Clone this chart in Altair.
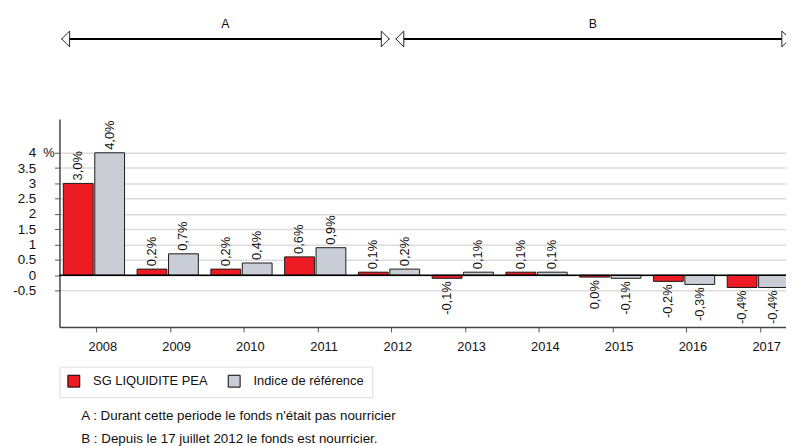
import altair as alt
import pandas as pd

# ---------------- data ----------------
years = [2008, 2009, 2010, 2011, 2012, 2013, 2014, 2015, 2016, 2017]
series_names = ["SG LIQUIDITE PEA", "Indice de référence"]
series_colors = ["#ED1C24", "#C8CDD6"]

fund_values = [3.0, 0.2, 0.2, 0.6, 0.1, -0.1, 0.1, -0.06, -0.2, -0.4]
fund_labels = ["3,0%", "0,2%", "0,2%", "0,6%", "0,1%", "-0,1%", "0,1%", "0,0%", "-0,2%", "-0,4%"]
index_values = [4.0, 0.7, 0.4, 0.9, 0.2, 0.1, 0.1, -0.1, -0.3, -0.4]
index_labels = ["4,0%", "0,7%", "0,4%", "0,9%", "0,2%", "0,1%", "0,1%", "-0,1%", "-0,3%", "-0,4%"]

y_ticks = [-0.5, 0, 0.5, 1, 1.5, 2, 2.5, 3, 3.5, 4]

periods = ["A", "B"]
period_start = [2007.53, 2012.06]
period_end = [2011.97, 2017.40]

footnotes = [
    "A : Durant cette periode le fonds n'était pas nourricier",
    "B : Depuis le 17 juillet 2012 le fonds est nourricier.",
]

# ---------------- tables ----------------
rows = []
for i, y in enumerate(years):
    rows.append({"year": y, "series": series_names[0], "idx": 0,
                 "value": fund_values[i], "label": fund_labels[i]})
    rows.append({"year": y, "series": series_names[1], "idx": 1,
                 "value": index_values[i], "label": index_labels[i]})
bars_df = pd.DataFrame(rows)

periods_df = pd.DataFrame({"period": periods, "start": period_start, "end": period_end})
zero_df = pd.DataFrame({"zero": [0]})
note_df = pd.DataFrame({"n": [0]})

FONT = "Arial"
xscale = alt.Scale(domain=[2007.4995, 2017.349], nice=False, zero=False)
yscale = alt.Scale(domain=[-1.69, 5.1], nice=False, zero=False)

x_axis = alt.Axis(values=years, format="d", title=None, grid=False,
                  labelFontSize=13, labelOffset=6, labelPadding=9,
                  tickSize=5, tickColor="#555555", domainColor="#444444",
                  domainWidth=1.5, labelColor="#111111")
y_axis = alt.Axis(values=y_ticks, labelExpr="'' + datum.value",
                  title="%", titleAngle=0, titleX=-17, titleY=34,
                  titleAlign="left", titleBaseline="middle",
                  titleFontSize=13, titleFontWeight="normal",
                  titleColor="#111111",
                  labelFontSize=13.5, labelPadding=19, tickSize=5,
                  tickColor="#555555", domainColor="#444444",
                  domainWidth=1.5, labelColor="#111111",
                  grid=True, gridColor="#dcdcdc", gridWidth=1.5)

base = alt.Chart(bars_df).transform_calculate(
    x0="datum.year + (datum.idx == 0 ? -0.448 : -0.022)"
).transform_calculate(
    x1="datum.x0 + 0.404",
    xc="datum.x0 + 0.202",
    zero="0",
)

bars = base.mark_rect(stroke="#1a1a1a", strokeWidth=1, clip=True).encode(
    x=alt.X("x0:Q", scale=xscale, axis=x_axis),
    x2="x1:Q",
    y=alt.Y("value:Q", scale=yscale, axis=y_axis),
    y2="zero:Q",
    color=alt.Color("series:N",
                    scale=alt.Scale(domain=series_names, range=series_colors),
                    legend=alt.Legend(title=None, orient="none", legendX=0, legendY=250,
                                      direction="horizontal", symbolType="square",
                                      symbolSize=144, symbolStrokeColor="#000000",
                                      symbolStrokeWidth=1, labelFontSize=13,
                                      labelColor="#111111",
                                      strokeColor="#dddddd", fillColor="white",
                                      padding=8, columnPadding=18, labelOffset=13)),
)

pos_labels = base.transform_filter("datum.value >= 0").mark_text(
    angle=270, align="left", baseline="middle", dx=3, fontSize=13, color="#111111"
).encode(
    x=alt.X("xc:Q", scale=xscale, axis=x_axis),
    y=alt.Y("value:Q", scale=yscale, axis=y_axis),
    text="label:N",
)

neg_labels = base.transform_filter("datum.value < 0").mark_text(
    angle=270, align="right", baseline="middle", dx=-3, fontSize=13, color="#111111"
).encode(
    x=alt.X("xc:Q", scale=xscale, axis=x_axis),
    y=alt.Y("value:Q", scale=yscale, axis=y_axis),
    text="label:N",
)

zero_rule = alt.Chart(zero_df).mark_rule(color="#000000", strokeWidth=1.5).encode(
    y=alt.Y("zero:Q", scale=yscale, axis=y_axis)
)

arrow_line = alt.Chart(periods_df).mark_rule(color="#000000", strokeWidth=2).encode(
    x=alt.X("start:Q", scale=xscale, axis=x_axis),
    x2="end:Q",
    y=alt.value(-81),
)
left_heads = alt.Chart(periods_df).mark_point(
    shape="M1,-1L0,0L1,1Z", filled=True, fill="white", stroke="#222222",
    strokeWidth=1, size=256, opacity=1
).encode(
    x=alt.X("start:Q", scale=xscale, axis=x_axis),
    y=alt.value(-81),
)
right_heads = alt.Chart(periods_df).mark_point(
    shape="M-1,-1L0,0L-1,1Z", filled=True, fill="white", stroke="#222222",
    strokeWidth=1, size=256, opacity=1
).encode(
    x=alt.X("end:Q", scale=xscale, axis=x_axis),
    y=alt.value(-81),
)
period_text = alt.Chart(periods_df).transform_calculate(
    mid="(datum.start + datum.end) / 2"
).mark_text(fontSize=12.5, color="#111111", baseline="middle").encode(
    x=alt.X("mid:Q", scale=xscale, axis=x_axis),
    y=alt.value(-96),
    text="period:N",
)

notes = alt.Chart(note_df).mark_text(
    align="left", baseline="alphabetic", fontSize=13.5, lineHeight=23.5, color="#111111"
).encode(
    x=alt.value(22),
    y=alt.value(304),
    text=alt.value(footnotes),
)

chart = alt.layer(
    bars, zero_rule, pos_labels, neg_labels,
    arrow_line, left_heads, right_heads, period_text, notes
).properties(
    width=734, height=210,
    autosize=alt.AutoSizeParams(type="none"),
    padding={"left": 52, "top": 110, "right": 0, "bottom": 120},
).configure(
    font=FONT,
).configure_view(
    stroke=None,
).configure_axis(
    labelFont=FONT, titleFont=FONT,
).configure_legend(
    labelFont=FONT,
).configure_text(
    font=FONT,
)

chart.save("out.html", embed_options={"renderer": "svg", "actions": False})
